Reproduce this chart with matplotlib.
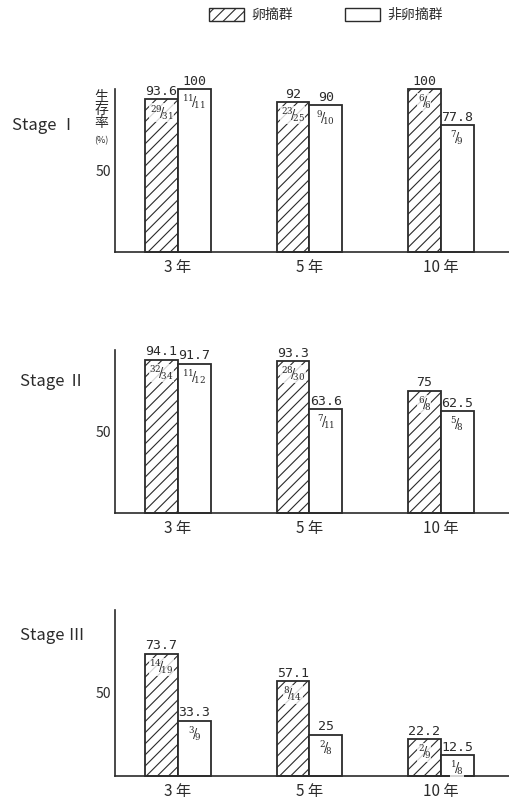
import matplotlib.pyplot as plt
from matplotlib.patches import Patch

plt.rcParams['font.family'] = ['Noto Sans CJK JP', 'DejaVu Sans']
plt.rcParams['hatch.linewidth'] = 0.8
plt.rcParams['mathtext.fontset'] = 'dejavuserif'

years = ['3 年', '5 年', '10 年']
stages = ['Stage Ⅰ', 'Stage Ⅱ', 'Stage Ⅲ']

# 卵摘群 (hatched) / 非卵摘群 (white): survival rate % and n/N
rate_a = [[93.6, 92, 100], [94.1, 93.3, 75], [73.7, 57.1, 22.2]]
rate_b = [[100, 90, 77.8], [91.7, 63.6, 62.5], [33.3, 25, 12.5]]
frac_a = [[(29, 31), (23, 25), (6, 6)], [(32, 34), (28, 30), (6, 8)], [(14, 19), (8, 14), (2, 9)]]
frac_b = [[(11, 11), (9, 10), (7, 9)], [(11, 12), (7, 11), (5, 8)], [(3, 9), (2, 8), (1, 8)]]

W, H = 509, 799
fig = plt.figure(figsize=(W / 100, H / 100), dpi=100)

# (baseline px, top-of-100 px) for each panel
panels = [(252, 89), (513, 350), (776, 610)]
stage_y = [125, 381, 635]
stage_x = [12, 20, 20]

ink = '#2b2b2b'
w = 0.25
x = [0, 1, 2]

for k, (base, top) in enumerate(panels):
    ax = fig.add_axes([115 / W, 1 - base / H, 1 - 115 / W, (base - top) / H])
    ax.set_xlim(-0.48, 2.52)
    ax.set_ylim(0, 100)
    xa = [i - w / 2 for i in x]
    xb = [i + w / 2 for i in x]
    ax.bar(xa, rate_a[k], width=w, facecolor='white', edgecolor=ink,
           hatch='///', linewidth=1.3, clip_on=False)
    ax.bar(xb, rate_b[k], width=w, facecolor='white', edgecolor=ink,
           linewidth=1.3, clip_on=False)
    for xs, rs, fs in [(xa, rate_a[k], frac_a[k]), (xb, rate_b[k], frac_b[k])]:
        for xi, r, (n, d) in zip(xs, rs, fs):
            ax.annotate(f'{r:g}', (xi, r), xytext=(0, 1), textcoords='offset points',
                        ha='center', va='bottom', fontsize=9.5, family=['DejaVu Sans Mono'],
                        color=ink, annotation_clip=False)
            ax.annotate(rf'$^{{{n}}}\!/\!_{{{d}}}$', (xi, r), xytext=(0, -3),
                        textcoords='offset points', ha='center', va='top',
                        fontsize=9, color=ink, annotation_clip=False,
                        bbox=dict(facecolor='white', edgecolor='none', pad=0.2, alpha=0.8))
    ax.set_xticks(x)
    ax.set_xticklabels(years, fontsize=11, color=ink)
    ax.set_yticks([50])
    ax.set_yticklabels(['50'], fontsize=10, color=ink)
    ax.tick_params(length=0, pad=3)
    ax.tick_params(axis='x', pad=5)
    for s in ['top', 'right']:
        ax.spines[s].set_visible(False)
    for s in ['left', 'bottom']:
        ax.spines[s].set_color(ink)
        ax.spines[s].set_linewidth(1.2)
    fig.text(stage_x[k] / W, 1 - stage_y[k] / H, stages[k], fontsize=12,
             color=ink, va='center', ha='left')

# y-axis title, written vertically
for j, ch in enumerate('生存率'):
    fig.text(101 / W, 1 - (97 + 13 * j) / H, ch, fontsize=10, color=ink,
             ha='center', va='center')
fig.text(101 / W, 1 - 141 / H, '(%)', fontsize=6.5, color=ink, ha='center', va='center')

handles = [Patch(facecolor='white', edgecolor=ink, hatch='///', linewidth=1.0, label='卵摘群'),
           Patch(facecolor='white', edgecolor=ink, linewidth=1.0, label='非卵摘群')]
fig.legend(handles=handles, loc='center', bbox_to_anchor=(326 / W, 1 - 15 / H),
           ncol=2, frameon=False, fontsize=10, handlelength=2.5, handleheight=1.1,
           columnspacing=3.8, handletextpad=0.5, labelcolor=ink)

fig.savefig('out.png', dpi=100)
